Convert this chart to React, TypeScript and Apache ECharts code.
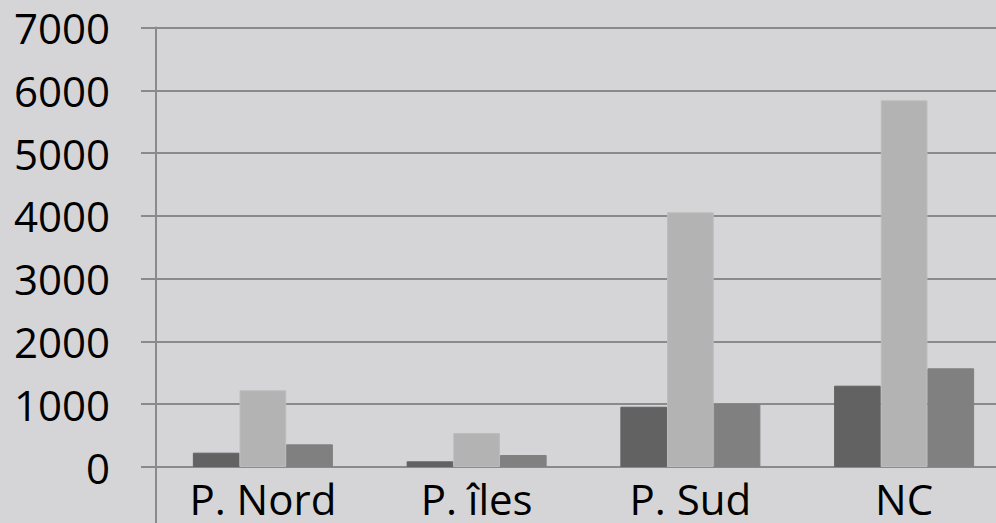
import React, { useEffect, useRef } from "react";
import * as echarts from "echarts";

const categories = ["P. Nord", "P. îles", "P. Sud", "NC"];
const seriesA = [228, 90, 960, 1295];
const seriesB = [1221, 541, 4056, 5840];
const seriesC = [361, 191, 1003, 1572];
const seriesColors = ["#626262", "#b3b3b3", "#808080"];

export default function App() {
  const ref = useRef<HTMLDivElement>(null);
  useEffect(() => {
    if (!ref.current) return;
    const chart = echarts.init(ref.current, null, { renderer: "svg" });
    const font = "'Open Sans', sans-serif";
    const mk = (name: string, data: number[], i: number) => ({
      name,
      type: "bar",
      data,
      barGap: "0%",
      barCategoryGap: "34.5%",
      itemStyle: {
        color: seriesColors[i],
        borderColor: i === 1 ? "#bcbcbc" : seriesColors[i],
        borderWidth: 1,
      },
    });
    chart.setOption({
      animation: false,
      backgroundColor: "#d5d5d7",
      grid: { left: 156, right: 0, top: 27.5, bottom: 56, containLabel: false },
      xAxis: {
        type: "category",
        data: categories,
        boundaryGap: true,
        axisLine: { show: true, lineStyle: { color: "#8a8a8a", width: 2 } },
        axisTick: {
          show: true,
          interval: (i: number) => i === 0,
          length: 60,
          lineStyle: { color: "#8a8a8a", width: 2 },
        },
        axisLabel: { color: "#000", fontSize: 42, fontFamily: font, margin: 10 },
        splitLine: { show: false },
      },
      yAxis: {
        type: "value",
        min: 0,
        max: 7000,
        interval: 1000,
        axisLine: { show: true, lineStyle: { color: "#8a8a8a", width: 2 } },
        axisTick: { show: true, length: 15, lineStyle: { color: "#8a8a8a", width: 2 } },
        axisLabel: {
          color: "#000",
          fontSize: 42,
          fontFamily: font,
          margin: 46,
          formatter: (v: number) => String(v),
        },
        splitLine: { show: true, lineStyle: { color: "#8a8a8a", width: 2 } },
      },
      series: [mk("A", seriesA, 0), mk("B", seriesB, 1), mk("C", seriesC, 2)],
    });
    return () => chart.dispose();
  }, []);
  return (
    <div
      ref={ref}
      style={{ position: "fixed", left: 0, top: 0, width: 1011, height: 523 }}
    />
  );
}
